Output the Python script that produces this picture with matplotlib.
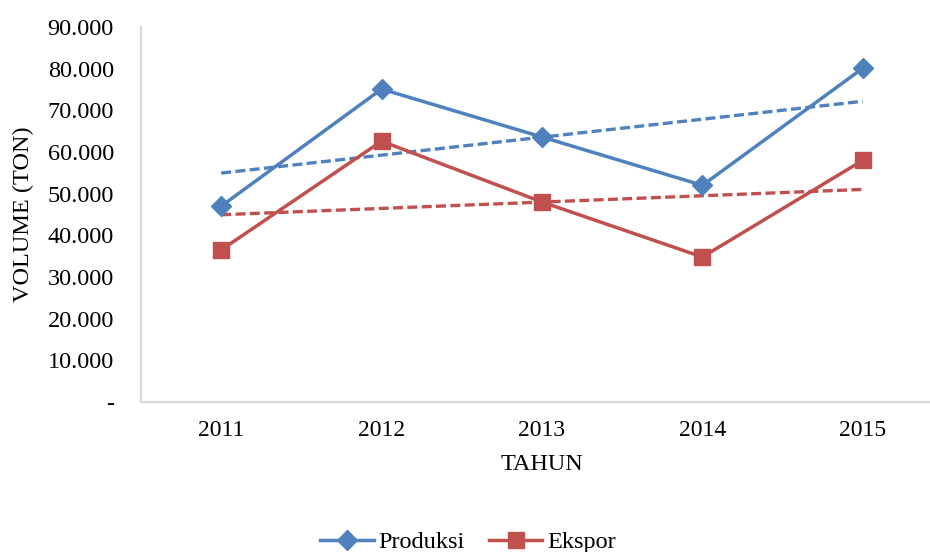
import numpy as np
import matplotlib.pyplot as plt

# data
tahun = ['2011', '2012', '2013', '2014', '2015']
produksi = [47000, 75100, 63600, 52000, 80100]
ekspor = [36500, 62600, 48000, 34800, 58000]
y_ticks = [0, 10000, 20000, 30000, 40000, 50000, 60000, 70000, 80000, 90000]

BLUE = '#4F81BD'
RED = '#C0504D'

plt.rcParams['font.family'] = ['Liberation Serif', 'DejaVu Serif']


def fmt_thousands(v):
    """Format like 90.000, with '-' for zero."""
    if v == 0:
        return '-'
    return f'{int(v):,}'.replace(',', '.')


def trend(values):
    """Linear trendline over the category positions."""
    x = np.arange(len(values))
    k, b = np.polyfit(x, values, 1)
    return k * x + b


def main():
    fig = plt.figure(figsize=(9.3, 5.52), dpi=100)
    ax = fig.add_axes([141 / 930, 1 - 402 / 552, 802 / 930, 375 / 552])
    x = np.arange(len(tahun))

    ax.plot(x, produksi, color=BLUE, lw=2.5, marker='D', ms=10,
            label='Produksi', zorder=3)
    ax.plot(x, ekspor, color=RED, lw=2.5, marker='s', ms=12,
            label='Ekspor', zorder=3)
    ax.plot(x, trend(produksi), color=BLUE, lw=2.4, ls=(0, (3, 1.3)), zorder=2)
    ax.plot(x, trend(ekspor), color=RED, lw=2.4, ls=(0, (3, 1.3)), zorder=2)

    ax.set_xlim(-0.5, len(tahun) - 0.5)
    ax.set_ylim(0, 90000)
    ax.set_xticks(x)
    ax.set_xticklabels(tahun, fontsize=17)
    ax.set_yticks(y_ticks)
    ax.set_yticklabels([fmt_thousands(v) for v in y_ticks], fontsize=17.5)
    ax.tick_params(length=0)
    ax.tick_params(axis='x', pad=13)
    ax.tick_params(axis='y', pad=19.5)

    for side in ['top', 'right']:
        ax.spines[side].set_visible(False)
    for side in ['left', 'bottom']:
        ax.spines[side].set_color('#D9D9D9')
        ax.spines[side].set_linewidth(1.5)

    ax.set_xlabel('TAHUN', fontsize=17.5, labelpad=9)
    ax.set_ylabel('VOLUME (TON)', fontsize=17.5, labelpad=10)

    fig.legend(loc='center', bbox_to_anchor=(468 / 930, 1 - 542 / 552),
               ncol=2, frameon=False, fontsize=17.5, handlelength=2.2,
               handletextpad=0.2, columnspacing=1.0)

    fig.savefig('out.png', dpi=100)


if __name__ == '__main__':
    main()
